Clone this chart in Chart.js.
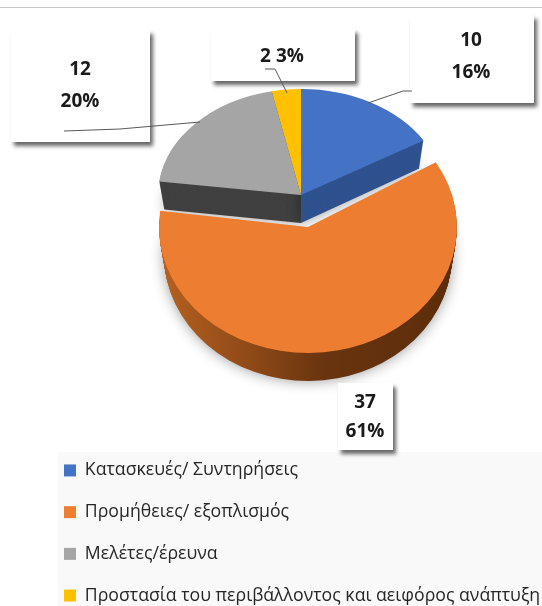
<!DOCTYPE html>
<html><head><meta charset="utf-8">
<style>html,body{margin:0;padding:0;background:#fff}#w{width:542px;height:606px;position:relative}</style>
<script src="https://cdn.jsdelivr.net/npm/chart.js@4"></script></head>
<body><div id="w"><canvas id="c" width="542" height="606"></canvas></div>
<script>
const categories = ["Κατασκευές/ Συντηρήσεις","Προμήθειες/ εξοπλισμός","Μελέτες/έρευνα","Προστασία του περιβάλλοντος και αειφόρος ανάπτυξη"];
const values = [10,37,12,2];
const percents = ["16%","61%","20%","3%"];
const colors = ["#4472c4","#ed7d31","#a5a5a5","#ffc000"];
const sideColors = ["#2f528f","#7a3d12","#404040","#b38600"];

// geometry of each tilted slice [centerX, centerY, radiusX, radiusY]
const faces = [[301,195,143,106],[308,227,149,126],[301,195,143,106],[301,195,143,106]];
const depth = 28;
const shrink = 5;
// callouts, each tied to a slice by index
const boxes = [
 {i:0,r:[410,15,124,88],cx:471,y:[46,78],line:[[368,103],[403,91],[412,91]]},
 {i:2,r:[11,30,139,112],cx:80,y:[75,107],line:[[200,122],[120,129],[64,131]]},
 {i:3,r:[211,29,144,52],cx:282,y:[62],line:[[287,93],[275,69],[265,69]]},
 {i:1,r:[338,383,55,67],cx:365,y:[408,437],line:[]}
];
function placed(ctx,arc,i,dy,fn){
  const f=faces[i], R=arc.outerRadius;
  ctx.save();
  ctx.translate(f[0],f[1]+dy);
  ctx.scale((f[2]-shrink*dy/depth)/R,f[3]/R);
  ctx.translate(-arc.x,-arc.y);
  fn();
  ctx.restore();
}
const tilted = {
  id:'tilted',
  afterLayout(chart){
    chart.legend.top=406;
    chart.legend.bottom=660;
  },
  beforeDraw(chart){
    const c=chart.ctx;
    c.save();
    c.fillStyle='#fff';c.fillRect(0,0,542,606);
    c.fillStyle='#c9c9c9';c.fillRect(0,7,542,1);
    c.fillStyle='#f9f9f9';c.fillRect(58,452,484,154);
    c.restore();
  },
  beforeDatasetDraw(chart,args){
    const c=chart.ctx, arcs=chart.getDatasetMeta(args.index).data;
    const order=[3,2,0,1];
    const wall=(a,i)=>{
      if(i!==1) return sideColors[i];
      const R=a.outerRadius, g=c.createLinearGradient(a.x-R,0,a.x+R,0);
      g.addColorStop(0,'#b5601f');g.addColorStop(.3,'#8f4a17');g.addColorStop(.55,'#69340f');g.addColorStop(1,'#5c2d0b');
      return g;
    };
    order.forEach((i)=>{
      const a=arcs[i], o=a.options, fill=o.backgroundColor;
      o.backgroundColor=wall(a,i);
      c.save();
      c.shadowColor='rgba(0,0,0,.4)';c.shadowBlur=14;
      placed(c,a,i,depth,()=>a.draw(c));
      c.restore();
      for(let d=depth-1;d>0;d--) placed(c,a,i,d,()=>a.draw(c));
      o.backgroundColor=fill;
    });
    order.forEach((i)=>{const a=arcs[i];placed(c,a,i,0,()=>a.draw(c));});
    return false;
  },
  afterDatasetsDraw(chart){
    const c=chart.ctx;
    boxes.forEach((b)=>{
      const i=b.i;
      c.save();
      c.shadowColor='rgba(0,0,0,.6)';c.shadowBlur=4;c.shadowOffsetX=3;c.shadowOffsetY=4;
      c.fillStyle='#fff';c.fillRect(...b.r);
      c.restore();
      c.save();
      if(b.line.length){
        c.strokeStyle='#595959';c.lineWidth=1;c.beginPath();
        b.line.forEach((p,k)=>k?c.lineTo(p[0],p[1]):c.moveTo(p[0],p[1]));
        c.stroke();
      }
      c.fillStyle='#1a1a1a';c.textAlign='center';
      c.font='bold 19px "Open Sans"';
      const t=b.y.length===2?[String(values[i]),percents[i]]:[values[i]+' '+percents[i]];
      t.forEach((s,k)=>c.fillText(s,b.cx,b.y[k]));
      c.restore();
    });
  }
};
new Chart(document.getElementById('c'),{
  type:'pie',
  data:{labels:categories,datasets:[{data:values,backgroundColor:colors,borderWidth:0}]},
  plugins:[tilted],
  options:{
    responsive:false,animation:false,
    layout:{padding:{left:40,top:0,right:0,bottom:0}},
    plugins:{
      tooltip:{enabled:false},
      legend:{position:'chartArea',align:'center',
        labels:{color:'#262626',font:{family:'"Open Sans"',size:17.7},boxWidth:12,boxHeight:12,padding:24}}
    }
  }
});
</script></body></html>
